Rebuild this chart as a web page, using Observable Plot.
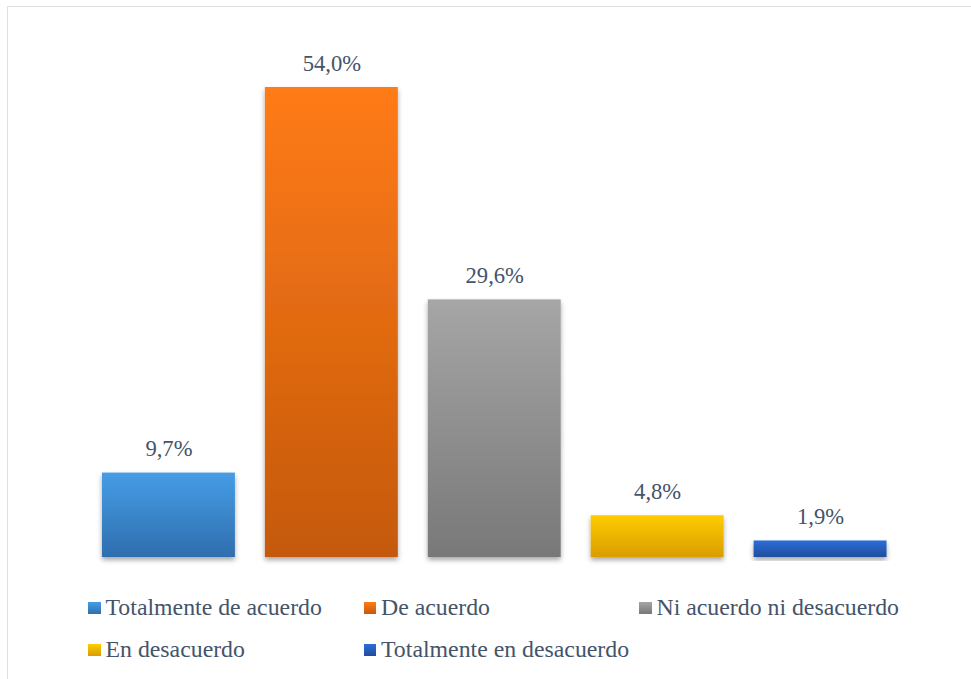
<!DOCTYPE html>
<html>
<head>
<meta charset="utf-8">
<script src="https://cdn.jsdelivr.net/npm/d3@7"></script>
<script src="https://cdn.jsdelivr.net/npm/@observablehq/plot@0.6"></script>
<style>
  html, body { margin: 0; padding: 0; background: #fff; overflow: hidden; width: 971px; height: 679px; }
  #frame { position: absolute; left: 7px; top: 6px; width: 2000px; height: 2000px; border: 1.5px solid #dde1e6; pointer-events: none; }
  #chart { position: absolute; left: 0; top: 0; }
  #legend { position: absolute; left: 88px; top: 586px; display: grid; grid-template-columns: 275.5px 275.5px 275.5px; grid-auto-rows: 42px;
            font-family: "Liberation Serif", "Times New Roman", serif; font-size: 23.8px; color: #44546a; }
  .item { display: flex; align-items: center; white-space: nowrap; }
  .sw { width: 12.5px; height: 12.5px; margin-right: 5px; flex: none; position: relative; top: 1px; }
  svg text.lbl { font-family: "Liberation Serif", "Times New Roman", serif; }
</style>
</head>
<body>
<div id="chart"></div>
<div id="legend"></div>
<div id="frame"></div>
<script>
const categories = ["Totalmente de acuerdo", "De acuerdo", "Ni acuerdo ni desacuerdo", "En desacuerdo", "Totalmente en desacuerdo"];
const values = [9.7, 54.0, 29.6, 4.8, 1.9];
const labels = ["9,7%", "54,0%", "29,6%", "4,8%", "1,9%"];
const topColors = ["#469de6", "#ff7b14", "#a6a6a6", "#ffcc00", "#2e6dd8"];
const bottomColors = ["#2f6eae", "#c4590f", "#787878", "#d99d00", "#1f4e9c"];

const data = categories.map((c, i) => ({cat: c, value: values[i], label: labels[i]}));
const urls = categories.map((c, i) => `url(#grad${i})`);

const plot = Plot.plot({
  width: 971,
  height: 570,
  marginTop: 87,
  marginBottom: 13,
  marginLeft: 72,
  marginRight: 54.5,
  x: {domain: categories, padding: 0.184, round: false, axis: null},
  y: {domain: [0, 54], axis: null},
  color: {domain: categories, range: urls},
  marks: [
    Plot.barY(data, {x: "cat", y: "value", fill: "cat"}),
    Plot.text(data, {x: "cat", y: "value", text: "label", dy: -24,
      fontSize: 22.6, fill: "#44546a"})
  ]
});

const svg = d3.select(plot);
const defs = svg.insert("defs", ":first-child");
categories.forEach((c, i) => {
  const g = defs.append("linearGradient").attr("id", `grad${i}`).attr("x1", 0).attr("y1", 0).attr("x2", 0).attr("y2", 1);
  g.append("stop").attr("offset", "0%").attr("stop-color", topColors[i]);
  g.append("stop").attr("offset", "100%").attr("stop-color", bottomColors[i]);
});
const f = defs.append("filter").attr("id", "shadow").attr("x", "-10%").attr("y", "-10%").attr("width", "120%").attr("height", "130%");
f.append("feDropShadow").attr("dx", 0).attr("dy", 3).attr("stdDeviation", 2.5).attr("flood-color", "#000").attr("flood-opacity", 0.35);
svg.selectAll("g[aria-label='bar'] rect").attr("filter", "url(#shadow)");
svg.selectAll("g[aria-label='text'] text").attr("class", "lbl");

document.getElementById("chart").appendChild(plot);

const legend = d3.select("#legend");
categories.forEach((c, i) => {
  const it = legend.append("div").attr("class", "item");
  it.append("div").attr("class", "sw").style("background", `linear-gradient(${topColors[i]}, ${bottomColors[i]})`);
  it.append("span").text(c);
});
</script>
</body>
</html>
